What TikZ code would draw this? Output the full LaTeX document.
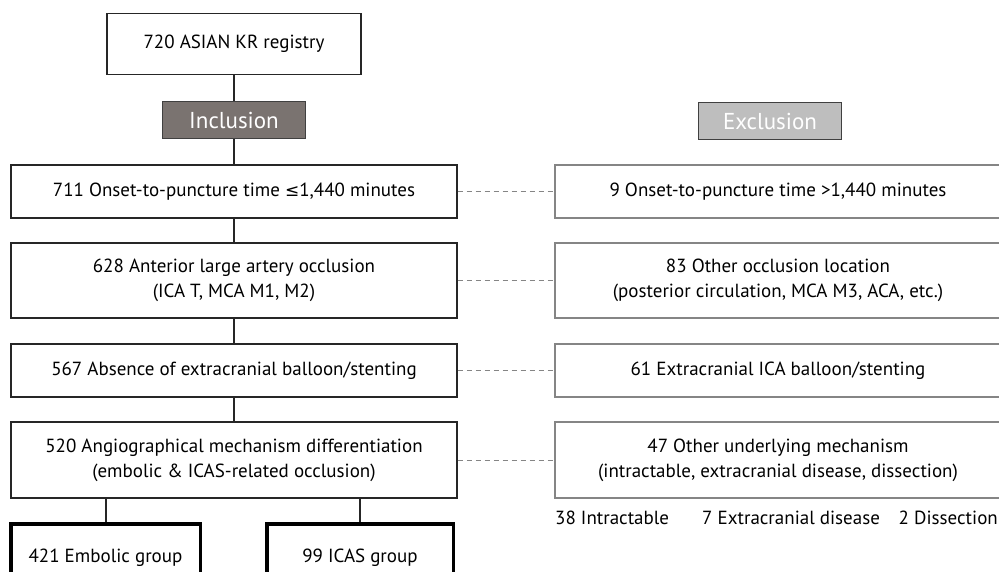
\documentclass[tikz,border=0pt]{standalone}
\usepackage{fontspec}
\setmainfont{PT Sans}
\newfontfamily\symfont{DejaVu Sans}
\definecolor{incgray}{HTML}{7A7370}
\definecolor{excgray}{HTML}{BEBEBE}
\definecolor{boxgray}{HTML}{858585}

\begin{document}
\begin{tikzpicture}[x=1pt, y=-1pt, font=\fontsize{19}{25}\selectfont,
  inbox/.style={draw=black!85, line width=1.4pt, minimum width=446pt, align=center, inner sep=0pt},
  exbox/.style={draw=boxgray, line width=1.4pt, minimum width=446pt, align=center, inner sep=0pt},
  grpbox/.style={draw=black, line width=3.5pt, minimum height=68pt, inner sep=0pt},
  header/.style={draw=black!75, line width=1.2pt, minimum width=143pt, minimum height=37pt, text=white, font=\fontsize{23}{26}\selectfont, inner sep=0pt},
  link/.style={line width=2pt, black!85},
  side/.style={boxgray, line width=1pt, dash pattern=on 5pt off 4pt},
  note/.style={inner sep=0pt}]
\useasboundingbox (0,0) rectangle (999,572);
\clip (0,0) rectangle (999,572);

\node[inbox, minimum width=254pt, minimum height=61pt] (registry) at (234,44) {720 ASIAN KR registry};
\node[header, fill=incgray] (incl) at (234,120) {Inclusion};
\node[header, fill=excgray] (excl) at (770,121) {Exclusion};

\node[inbox, minimum height=53pt] (onset) at (234,191.5) {711 Onset-to-puncture time {\symfont\fontsize{17}{25}\selectfont ≤}1,440 minutes};
\node[inbox, minimum height=75pt] (ante) at (234,280.5) {628 Anterior large artery occlusion\\(ICA T, MCA M1, M2)};
\node[inbox, minimum height=53pt] (absn) at (234,370.5) {567 Absence of extracranial balloon/stenting};
\node[inbox, minimum height=76pt] (angio) at (234,460) {520 Angiographical mechanism differentiation\\(embolic \& ICAS-related occlusion)};

\node[exbox, minimum height=53pt] (late) at (778,191.5) {9 Onset-to-puncture time >1,440 minutes};
\node[exbox, minimum height=75pt] (other) at (778,280.5) {83 Other occlusion location\\(posterior circulation, MCA M3, ACA, etc.)};
\node[exbox, minimum height=53pt] (extra) at (778,370.5) {61 Extracranial ICA balloon/stenting};
\node[exbox, minimum height=76pt] (mech) at (778,460) {47 Other underlying mechanism\\(intractable, extracranial disease, dissection)};

\node[note, anchor=base west] (intr) at (555,524) {38 Intractable};
\node[note, anchor=base west] (excd) at (702,524) {7 Extracranial disease};
\node[note, anchor=base east] (diss) at (998,524) {2 Dissection};

\node[grpbox, minimum width=189.5pt] (emb) at (105.5,558) {421 Embolic group};
\node[grpbox, minimum width=186.5pt] (icas) at (360,558) {99 ICAS group};

\draw[link] (registry) -- (incl);
\draw[link] (incl) -- (onset);
\draw[link] (onset) -- (ante);
\draw[link] (ante) -- (absn);
\draw[link] (absn) -- (angio);
\draw[link] (angio.south -| emb) -- (emb);
\draw[link] (angio.south -| icas) -- (icas);

\draw[side] (onset) -- (late);
\draw[side] (ante) -- (other);
\draw[side] (absn) -- (extra);
\draw[side] (angio) -- (mech);
\end{tikzpicture}
\end{document}
